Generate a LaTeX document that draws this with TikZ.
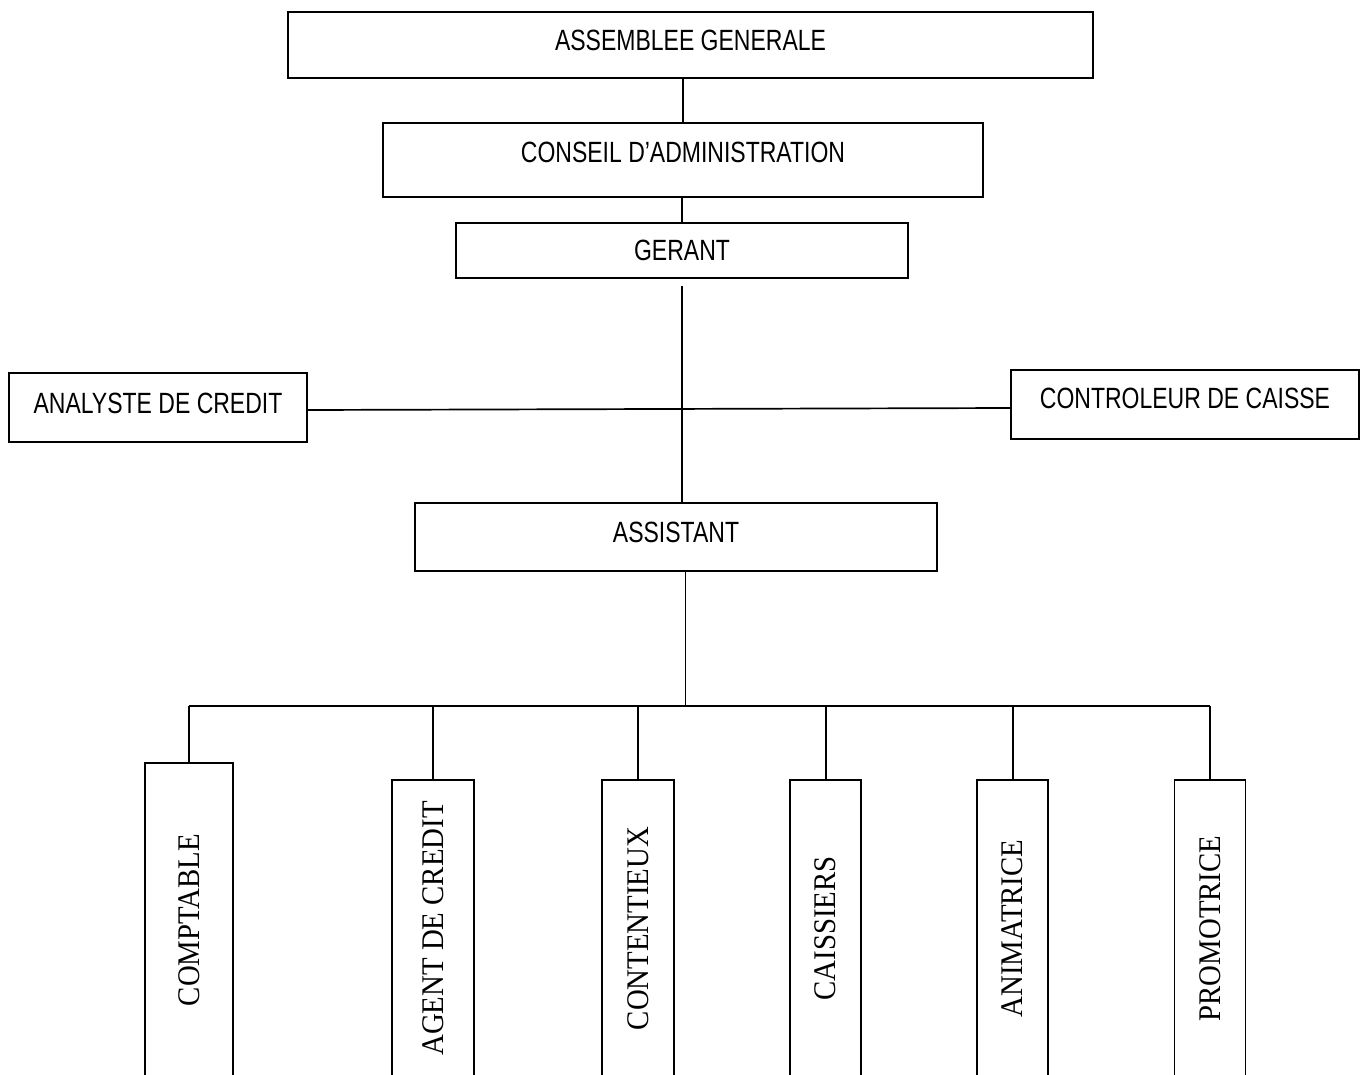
\documentclass[tikz,border=0pt]{standalone}
\usepackage{fontspec}
\setmainfont{Liberation Serif}
\newfontfamily\sansetroit{Liberation Sans}[FakeStretch=0.785]
\newfontfamily\serifetroit{Liberation Serif}[FakeStretch=0.915]

\tikzset{
  boite/.style={draw, rectangle, line width=1.6pt, inner sep=0pt,
    font=\sansetroit\fontsize{29.3}{34}\selectfont, text height=21pt, text depth=10pt},
  poste/.style={draw, rectangle, line width=1.6pt, inner sep=0pt, rotate=90,
    font=\serifetroit\fontsize{31.5}{36}\selectfont},
  lien/.style={line width=1.7pt}
}

\begin{document}
\begin{tikzpicture}[x=1pt,y=-1pt]

\clip (0,0) rectangle (1362,1075);

% --- Direction ---
\node[boite, minimum width=805pt, minimum height=66pt] (ag) at (690.5,45) {ASSEMBLEE GENERALE};
\node[boite, minimum width=600pt, minimum height=74pt, text depth=16pt] (ca) at (683,160) {CONSEIL D’ADMINISTRATION};
\node[boite, minimum width=452pt, minimum height=55pt, text depth=0pt] (ger) at (682,250.5) {GERANT};

% Postes rattaches au gerant
\node[boite, minimum width=298pt, minimum height=69pt] (ana) at (158,407.5) {ANALYSTE DE CREDIT};
\node[boite, minimum width=348pt, minimum height=69pt, text depth=13pt] (ctrl) at (1185,404.5) {CONTROLEUR DE CAISSE};
\node[boite, minimum width=522pt, minimum height=68pt] (asst) at (676,537) {ASSISTANT};

% --- Services (texte vertical) ---
\node[poste, minimum width=314pt, minimum height=88pt] (compt) at (189,920) {COMPTABLE};
\node[poste, minimum width=297pt, minimum height=82pt] (agent) at (433,928.5) {AGENT DE CREDIT};
\node[poste, minimum width=297pt, minimum height=72pt] (cont) at (638,928.5) {CONTENTIEUX};
\node[poste, minimum width=297pt, minimum height=71pt] (cais) at (825.7,928.5) {CAISSIERS};
\node[poste, minimum width=297pt, minimum height=71pt] (anim) at (1012.7,928.5) {ANIMATRICE};
\node[poste, minimum width=297pt, minimum height=71pt] (promo) at (1210,928.5) {PROMOTRICE};

% Liaisons verticales
\draw[lien] (ag.south -| ca.north) -- (ca.north);
\draw[lien] (ca.south -| ger.north) -- (ger.north);
\draw[lien, shorten <=7pt] (ger.south) -- (ger.south |- asst.north);

% Ligne horizontale analyste / controleur
\draw[lien] ([yshift=-2.5pt]ana.east) -- ([yshift=-3.5pt]ctrl.west);

% Barre de distribution vers les services
\coordinate (bus) at (685.5,706);
\draw[lien] (asst.south -| bus) -- (bus);
\draw[lien] (compt.east |- bus) -- (promo.east |- bus);
\draw[lien] (compt.east |- bus) -- (compt.east);
\draw[lien] (agent.east |- bus) -- (agent.east);
\draw[lien] (cont.east |- bus) -- (cont.east);
\draw[lien] (cais.east |- bus) -- (cais.east);
\draw[lien] (anim.east |- bus) -- (anim.east);
\draw[lien] (promo.east |- bus) -- (promo.east);

\end{tikzpicture}
\end{document}
